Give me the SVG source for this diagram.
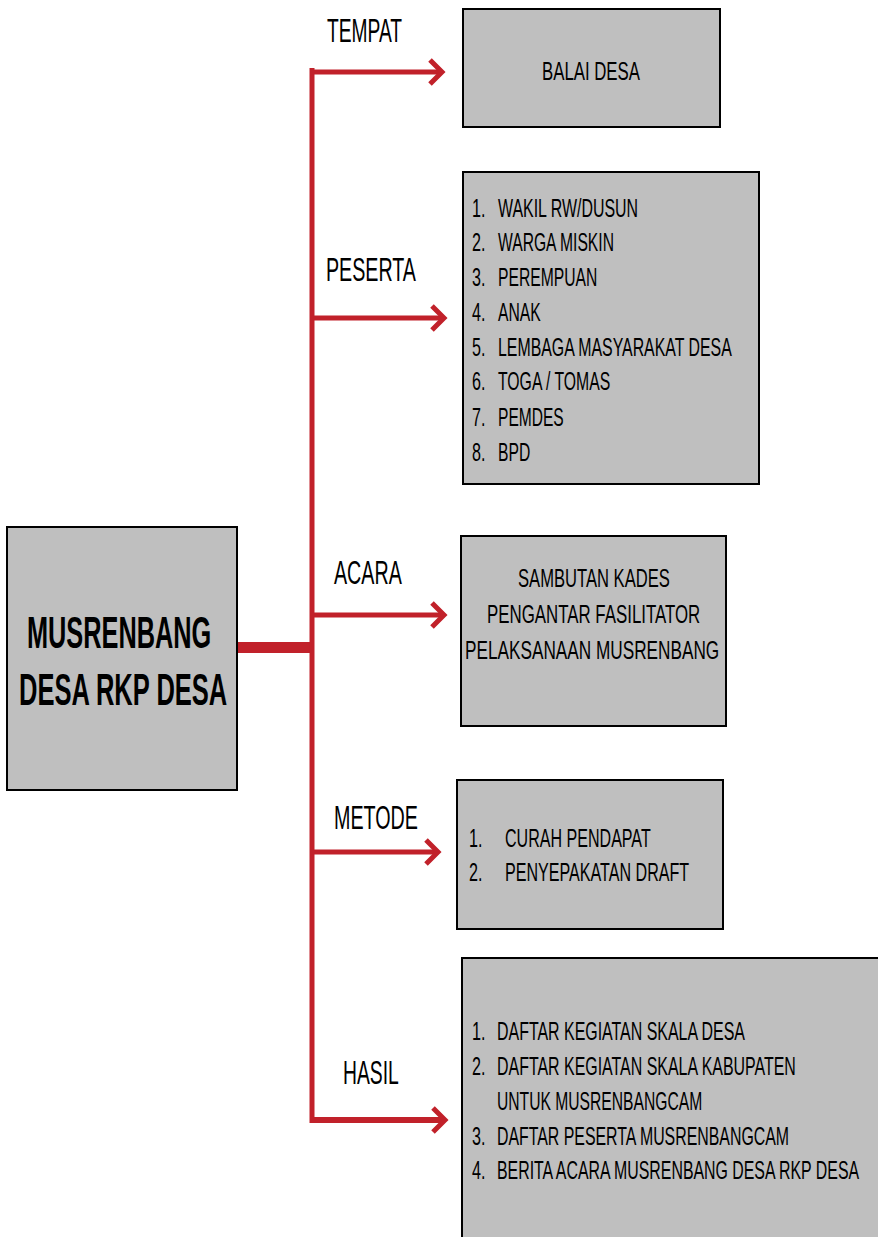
<svg xmlns="http://www.w3.org/2000/svg" width="878" height="1237" viewBox="0 0 878 1237">
  <style>
    .box { fill: #bfbfbf; stroke: #000; stroke-width: 2; }
    .t { font-family: "Liberation Sans", Arial, sans-serif; font-size: 26px; fill: #000; }
    .lbl { font-family: "Liberation Sans", Arial, sans-serif; font-size: 34px; fill: #000; }
    .main { font-family: "Liberation Sans", Arial, sans-serif; font-size: 45px; font-weight: bold; fill: #000; }
    .wire { fill: none; stroke: #c1212a; stroke-width: 5; }
  </style>
  <defs>
    <marker id="chev" markerUnits="userSpaceOnUse" markerWidth="24" markerHeight="34" refX="16" refY="17" orient="auto">
      <path d="M4,5 L16,17 L4,29" fill="none" stroke="#c1212a" stroke-width="5"/>
    </marker>
  </defs>

  <!-- connectors: trunk from the central node, spine, and five arrowed branches -->
  <g id="connectors">
    <path class="wire" d="M237,647.5 H312" style="stroke-width:11"/>
    <path class="wire" d="M312,68 V1123"/>
    <path class="wire" d="M312,72 H442" marker-end="url(#chev)"/>
    <path class="wire" d="M312,318 H444" marker-end="url(#chev)"/>
    <path class="wire" d="M312,615 H444" marker-end="url(#chev)"/>
    <path class="wire" d="M312,852 H438" marker-end="url(#chev)"/>
    <path class="wire" d="M312,1120 H445" style="stroke-width:6" marker-end="url(#chev)"/>
  </g>

  <!-- branch labels (condensed horizontally) -->
  <g id="labels">
    <text class="lbl" transform="translate(327,42) scale(0.6,1)" textLength="125" lengthAdjust="spacingAndGlyphs">TEMPAT</text>
    <text class="lbl" transform="translate(326,281) scale(0.6,1)" textLength="150" lengthAdjust="spacingAndGlyphs">PESERTA</text>
    <text class="lbl" transform="translate(334,584) scale(0.6,1)" textLength="113" lengthAdjust="spacingAndGlyphs">ACARA</text>
    <text class="lbl" transform="translate(334,829) scale(0.6,1)" textLength="140" lengthAdjust="spacingAndGlyphs">METODE</text>
    <text class="lbl" transform="translate(343,1084) scale(0.6,1)" textLength="93" lengthAdjust="spacingAndGlyphs">HASIL</text>
  </g>

  <!-- central node -->
  <g id="musrenbang">
    <rect class="box" x="7" y="527" width="230" height="263"/>
    <text class="main" transform="translate(27,648) scale(0.6,1)" textLength="307" lengthAdjust="spacingAndGlyphs">MUSRENBANG</text>
    <text class="main" transform="translate(19,705) scale(0.6,1)" textLength="347" lengthAdjust="spacingAndGlyphs">DESA RKP DESA</text>
  </g>

  <!-- tempat -->
  <g id="tempat">
    <rect class="box" x="463" y="9" width="257" height="118"/>
    <text class="t" transform="translate(542,80) scale(0.62,1)" textLength="158" lengthAdjust="spacingAndGlyphs">BALAI DESA</text>
  </g>

  <!-- peserta -->
  <g id="peserta">
    <rect class="box" x="463" y="172" width="296" height="312"/>
    <text class="t" transform="translate(472,217) scale(0.62,1)">1.</text>
    <text class="t" transform="translate(498,217) scale(0.62,1)" textLength="226" lengthAdjust="spacingAndGlyphs">WAKIL RW/DUSUN</text>
    <text class="t" transform="translate(472,251) scale(0.62,1)">2.</text>
    <text class="t" transform="translate(498,251) scale(0.62,1)" textLength="187" lengthAdjust="spacingAndGlyphs">WARGA MISKIN</text>
    <text class="t" transform="translate(472,286) scale(0.62,1)">3.</text>
    <text class="t" transform="translate(498,286) scale(0.62,1)" textLength="160" lengthAdjust="spacingAndGlyphs">PEREMPUAN</text>
    <text class="t" transform="translate(472,321) scale(0.62,1)">4.</text>
    <text class="t" transform="translate(498,321) scale(0.62,1)" textLength="69" lengthAdjust="spacingAndGlyphs">ANAK</text>
    <text class="t" transform="translate(472,356) scale(0.62,1)">5.</text>
    <text class="t" transform="translate(498,356) scale(0.62,1)" textLength="377" lengthAdjust="spacingAndGlyphs">LEMBAGA MASYARAKAT DESA</text>
    <text class="t" transform="translate(472,390) scale(0.62,1)">6.</text>
    <text class="t" transform="translate(498,390) scale(0.62,1)" textLength="181" lengthAdjust="spacingAndGlyphs">TOGA / TOMAS</text>
    <text class="t" transform="translate(472,426) scale(0.62,1)">7.</text>
    <text class="t" transform="translate(498,426) scale(0.62,1)" textLength="106" lengthAdjust="spacingAndGlyphs">PEMDES</text>
    <text class="t" transform="translate(472,461) scale(0.62,1)">8.</text>
    <text class="t" transform="translate(498,461) scale(0.62,1)" textLength="52" lengthAdjust="spacingAndGlyphs">BPD</text>
  </g>

  <!-- acara -->
  <g id="acara">
    <rect class="box" x="461" y="536" width="265" height="190"/>
    <text class="t" transform="translate(518,587) scale(0.62,1)" textLength="245" lengthAdjust="spacingAndGlyphs">SAMBUTAN KADES</text>
    <text class="t" transform="translate(487,623) scale(0.62,1)" textLength="344" lengthAdjust="spacingAndGlyphs">PENGANTAR FASILITATOR</text>
    <text class="t" transform="translate(465,659) scale(0.62,1)" textLength="410" lengthAdjust="spacingAndGlyphs">PELAKSANAAN MUSRENBANG</text>
  </g>

  <!-- metode -->
  <g id="metode">
    <rect class="box" x="457" y="780" width="266" height="149"/>
    <text class="t" transform="translate(469,847) scale(0.62,1)">1.</text>
    <text class="t" transform="translate(505,847) scale(0.62,1)" textLength="235" lengthAdjust="spacingAndGlyphs">CURAH PENDAPAT</text>
    <text class="t" transform="translate(469,881) scale(0.62,1)">2.</text>
    <text class="t" transform="translate(505,881) scale(0.62,1)" textLength="297" lengthAdjust="spacingAndGlyphs">PENYEPAKATAN DRAFT</text>
  </g>

  <!-- hasil (box runs past the right and bottom edges) -->
  <g id="hasil">
    <rect class="box" x="462" y="958" width="430" height="300"/>
    <text class="t" transform="translate(472,1040) scale(0.62,1)">1.</text>
    <text class="t" transform="translate(497,1040) scale(0.62,1)" textLength="400" lengthAdjust="spacingAndGlyphs">DAFTAR KEGIATAN SKALA DESA</text>
    <text class="t" transform="translate(472,1075) scale(0.62,1)">2.</text>
    <text class="t" transform="translate(497,1075) scale(0.62,1)" textLength="482" lengthAdjust="spacingAndGlyphs">DAFTAR KEGIATAN SKALA KABUPATEN</text>
    <text class="t" transform="translate(497,1110) scale(0.62,1)" textLength="331" lengthAdjust="spacingAndGlyphs">UNTUK MUSRENBANGCAM</text>
    <text class="t" transform="translate(472,1145) scale(0.62,1)">3.</text>
    <text class="t" transform="translate(497,1145) scale(0.62,1)" textLength="471" lengthAdjust="spacingAndGlyphs">DAFTAR PESERTA MUSRENBANGCAM</text>
    <text class="t" transform="translate(472,1179) scale(0.62,1)">4.</text>
    <text class="t" transform="translate(497,1179) scale(0.62,1)" textLength="584" lengthAdjust="spacingAndGlyphs">BERITA ACARA MUSRENBANG DESA RKP DESA</text>
  </g>
</svg>
